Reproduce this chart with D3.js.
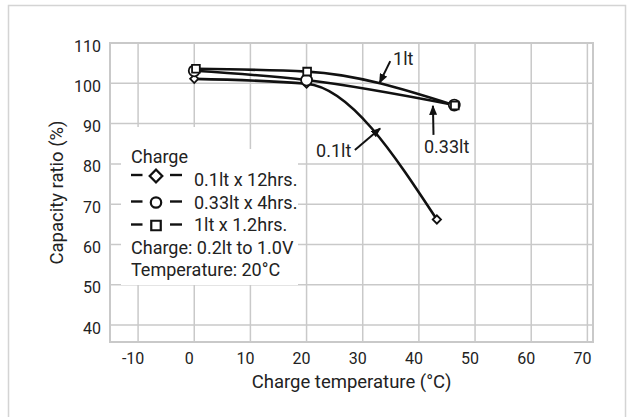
<!DOCTYPE html>
<html><head><meta charset="utf-8">
<script src="https://cdn.jsdelivr.net/npm/d3@7"></script>
<style>
html,body{margin:0;padding:0;background:#fff;}
svg{display:block;font-family:Roboto,"DejaVu Sans",sans-serif;}
</style></head>
<body>
<svg id="c" width="633" height="417"></svg>
<script>
// ---- data ----
const xTicks = [-10, 0, 10, 20, 30, 40, 50, 60, 70];
const yTicks = [40, 50, 60, 70, 80, 90, 100, 110];
const temp01 = [0, 20, 43.2];
const cap01 = [101.1, 99.9, 66.2];
const temp033 = [0, 20, 46.3];
const cap033 = [103.1, 100.8, 94.6];
const temp1 = [0.3, 20.1, 46.4];
const cap1 = [103.6, 102.9, 94.5];
const seriesNames = ["0.1lt x 12hrs.", "0.33lt x 4hrs.", "1lt x 1.2hrs."];
const seriesSymbols = ["diamond", "circle", "square"];
const noteLabels = ["1lt", "0.1lt", "0.33lt"];
const noteTextX = [35.4, 21.7, 40.9];
const noteTextY = [104.5, 81.6, 82.6];
const noteFromX = [34.9, 28.6, 42.6];
const noteFromY = [105.5, 83.45, 87.2];
const noteToX = [33.0, 33.1, 42.5];
const noteToY = [100.1, 88.8, 94.4];
const xTitle = "Charge temperature (°C)";
const yTitle = "Capacity ratio (%)";
const legendTitle = "Charge";
const legendNotes = ["Charge: 0.2lt to 1.0V", "Temperature: 20°C"];

// ---- layout ----
const L = 110, R = 593, T = 43, B = 342;
const svg = d3.select("#c");
const x = d3.scaleLinear().domain([-15, 71]).range([L, R]);
const y = d3.scaleLinear().domain([35.8, 110]).range([B, T]);
const grid = "#c9c9c9", ink = "#222";

// outer border
svg.append("rect").attr("x", 8.5).attr("y", 5.5).attr("width", 617).attr("height", 440)
  .attr("fill", "none").attr("stroke", "#d4d4d4").attr("stroke-width", 1.5);

// gridlines
const g = svg.append("g");
g.selectAll(".vx").data(xTicks).join("line")
  .attr("x1", d => x(d)).attr("x2", d => x(d)).attr("y1", T).attr("y2", B)
  .attr("stroke", grid).attr("stroke-width", 1.5);
g.selectAll(".hy").data(yTicks).join("line")
  .attr("x1", L).attr("x2", R).attr("y1", d => y(d)).attr("y2", d => y(d))
  .attr("stroke", grid).attr("stroke-width", 1.5);
g.append("rect").attr("x", L).attr("y", T).attr("width", R - L).attr("height", B - T)
  .attr("fill", "none").attr("stroke", grid).attr("stroke-width", 2);

// tick labels
svg.append("g").selectAll("text").data(xTicks).join("text")
  .attr("x", d => x(d) - 5).attr("y", 364).attr("text-anchor", "middle")
  .attr("font-size", 16).attr("fill", ink).text(d => d);
svg.append("g").selectAll("text").data(yTicks).join("text")
  .attr("x", 101).attr("y", d => y(d) + 3).attr("dy", "0.35em").attr("text-anchor", "end")
  .attr("font-size", 16).attr("fill", ink).text(d => d);

// axis titles
svg.append("text").attr("x", (L + R) / 2).attr("y", 388).attr("text-anchor", "middle")
  .attr("font-size", 18.5).attr("fill", ink).text(xTitle);
svg.append("text").attr("transform", `translate(63,${(T + B) / 2}) rotate(-90)`)
  .attr("text-anchor", "middle").attr("font-size", 18.5).attr("fill", ink).text(yTitle);

// legend white box
svg.append("rect").attr("x", 121).attr("y", 127).attr("width", 124).attr("height", 30).attr("fill", "#fff");
svg.append("rect").attr("x", 121).attr("y", 149).attr("width", 177).attr("height", 136).attr("fill", "#fff");

// series
const series = [
  {t: temp01, c: cap01, sym: "diamond", size: 34},
  {t: temp033, c: cap033, sym: "circle", size: 95},
  {t: temp1, c: cap1, sym: "square", size: 60}
];
const line = d3.line().x(d => x(d[0])).y(d => y(d[1])).curve(d3.curveMonotoneX);
function symPath(sym, size) {
  if (sym === "circle") return d3.symbol(d3.symbolCircle, size)();
  return d3.symbol(d3.symbolSquare, size)();
}
series.forEach(s => {
  svg.append("path").datum(d3.zip(s.t, s.c)).attr("d", line)
    .attr("fill", "none").attr("stroke", "#111").attr("stroke-width", 2.6);
});
series.forEach(s => {
  svg.append("g").selectAll("path").data(d3.zip(s.t, s.c)).join("path")
    .attr("d", symPath(s.sym, s.size))
    .attr("transform", d => `translate(${x(d[0])},${y(d[1])})` + (s.sym === "diamond" ? " rotate(45)" : ""))
    .attr("fill", "#fff").attr("stroke", "#111").attr("stroke-width", 1.8);
});

// annotations
const defs = svg.append("defs");
defs.append("marker").attr("id", "ah").attr("viewBox", "0 0 10 8").attr("refX", 9).attr("refY", 4)
  .attr("markerWidth", 10).attr("markerHeight", 8).attr("markerUnits", "userSpaceOnUse")
  .attr("orient", "auto").append("path").attr("d", "M0,0L10,4L0,8z").attr("fill", "#111");
const notes = noteLabels.map((lab, i) => ({lab, tx: noteTextX[i], ty: noteTextY[i],
  fx: noteFromX[i], fy: noteFromY[i], ex: noteToX[i], ey: noteToY[i]}));
svg.append("g").selectAll("line").data(notes).join("line")
  .attr("x1", d => x(d.fx)).attr("y1", d => y(d.fy)).attr("x2", d => x(d.ex)).attr("y2", d => y(d.ey))
  .attr("stroke", "#111").attr("stroke-width", 2).attr("marker-end", "url(#ah)");
svg.append("g").selectAll("text").data(notes).join("text")
  .attr("x", d => x(d.tx)).attr("y", d => y(d.ty)).attr("font-size", 18).attr("fill", ink).text(d => d.lab);

// legend
const lg = svg.append("g");
lg.append("text").attr("x", 131).attr("y", 163).attr("font-size", 18).attr("fill", ink).text(legendTitle);
const rowBase = [186, 208.5, 231];
const rowSym = [176, 202.5, 225.5];
const legSize = {diamond: 80, circle: 85, square: 90};
seriesNames.forEach((nm, i) => {
  const cy = rowSym[i];
  lg.append("line").attr("x1", 131).attr("x2", 142.5).attr("y1", cy - 1).attr("y2", cy - 1)
    .attr("stroke", "#111").attr("stroke-width", 2.4);
  lg.append("line").attr("x1", 170).attr("x2", 182).attr("y1", cy - 1).attr("y2", cy - 1)
    .attr("stroke", "#111").attr("stroke-width", 2.4);
  const sym = seriesSymbols[i];
  lg.append("path").attr("d", symPath(sym, legSize[sym]))
    .attr("transform", `translate(156,${cy})` + (sym === "diamond" ? " rotate(45)" : ""))
    .attr("fill", "#fff").attr("stroke", "#111").attr("stroke-width", 2.2);
  lg.append("text").attr("x", 194).attr("y", rowBase[i]).attr("font-size", 18).attr("fill", ink).text(nm);
});
legendNotes.forEach((t, i) => {
  lg.append("text").attr("x", 131).attr("y", 253.5 + i * 22).attr("font-size", 18).attr("fill", ink).text(t);
});
</script>
</body></html>
